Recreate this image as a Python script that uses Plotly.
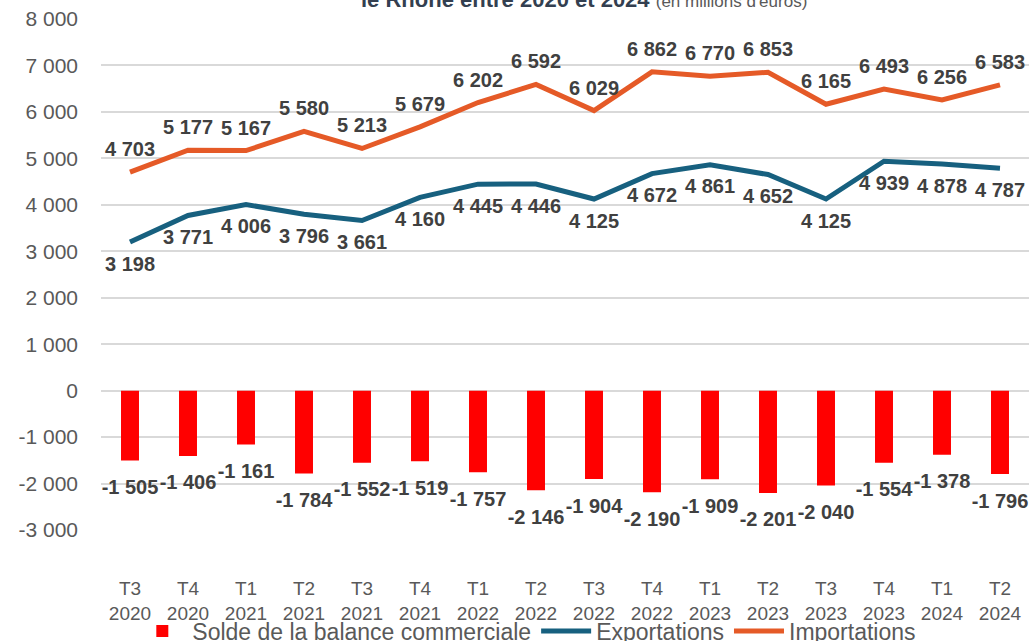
import plotly.graph_objects as go

categories = ["T3<br>2020", "T4<br>2020", "T1<br>2021", "T2<br>2021", "T3<br>2021", "T4<br>2021",
              "T1<br>2022", "T2<br>2022", "T3<br>2022", "T4<br>2022", "T1<br>2023", "T2<br>2023",
              "T3<br>2023", "T4<br>2023", "T1<br>2024", "T2<br>2024"]
exportations = [3198, 3771, 4006, 3796, 3661, 4160, 4445, 4446, 4125, 4672, 4861, 4652, 4125, 4939, 4878, 4787]
importations = [4703, 5177, 5167, 5580, 5213, 5679, 6202, 6592, 6029, 6862, 6770, 6853, 6165, 6493, 6256, 6583]
solde = [-1505, -1406, -1161, -1784, -1552, -1519, -1757, -2146, -1904, -2190, -1909, -2201, -2040, -1554, -1378, -1796]
y_ticks = [8000, 7000, 6000, 5000, 4000, 3000, 2000, 1000, 0, -1000, -2000, -3000]


def fmt(v):
    s = f"{abs(v):,}".replace(",", " ")
    return ("-" if v < 0 else "") + s


LABEL_FONT = dict(family="Liberation Sans, Arial", size=20, color="#404040", weight="bold")
GRAY = "#595959"
BLUE = "#17607F"
ORANGE = "#E55A27"

fig = go.Figure()
fig.add_trace(go.Bar(
    x=categories, y=solde, name="Solde de la balance commerciale",
    marker=dict(color="#FF0000", line=dict(width=0)), width=0.31,
))
fig.add_trace(go.Scatter(
    x=categories, y=exportations, name="Exportations", mode="lines+markers+text",
    line=dict(color=BLUE, width=5), marker=dict(size=20, color="rgba(0,0,0,0)"),
    text=[fmt(v) for v in exportations], textposition="bottom center", textfont=LABEL_FONT,
    cliponaxis=False,
))
fig.add_trace(go.Scatter(
    x=categories, y=importations, name="Importations", mode="lines+markers+text",
    line=dict(color=ORANGE, width=5), marker=dict(size=16, color="rgba(0,0,0,0)"),
    text=[fmt(v) for v in importations], textposition="top center", textfont=LABEL_FONT,
    cliponaxis=False,
))
# data labels of the bars, placed below each bar end
fig.add_trace(go.Scatter(
    x=categories, y=solde, mode="markers+text", showlegend=False, hoverinfo="skip",
    marker=dict(size=28, color="rgba(0,0,0,0)"),
    text=[fmt(v) for v in solde], textposition="bottom center", textfont=LABEL_FONT,
    cliponaxis=False,
))

fig.add_annotation(
    xref="paper", yref="paper", x=0.52, y=1, yshift=5, xanchor="center", yanchor="bottom",
    text="<b>le Rhône entre 2020 et 2024</b> <span style='font-size:17px;color:#595959'>(en millions d'euros)</span>",
    showarrow=False, font=dict(family="Liberation Sans, Arial", size=22, color="#333F50"),
)

fig.update_layout(
    width=1035, height=641,
    margin=dict(l=101, r=6, t=19, b=111, autoexpand=False),
    plot_bgcolor="white", paper_bgcolor="white",
    showlegend=True,
    legend=dict(orientation="h", x=0.509, xref="container", xanchor="center",
                y=0.0156, yref="container", yanchor="middle",
                bgcolor="rgba(0,0,0,0)",
                font=dict(family="Liberation Sans, Arial", size=23, color=GRAY),
                itemwidth=50, traceorder="normal", tracegroupgap=0),
    xaxis=dict(range=[-0.5, 15.5], showgrid=False, showline=False, ticks="",
               ticklabelstandoff=45, automargin=False,
               tickfont=dict(family="Liberation Sans, Arial", size=19, color=GRAY)),
    yaxis=dict(range=[-3000, 8000], tickvals=y_ticks, ticktext=[fmt(v) for v in y_ticks],
               showgrid=True, gridcolor="#D9D9D9", gridwidth=1.5, zeroline=False, showline=False,
               ticks="", ticklabelstandoff=22, automargin=False,
               tickfont=dict(family="Liberation Sans, Arial", size=21, color=GRAY)),
)

fig.write_html("out.html", config={"displayModeBar": False},
               post_script="document.body.style.margin='0';")
